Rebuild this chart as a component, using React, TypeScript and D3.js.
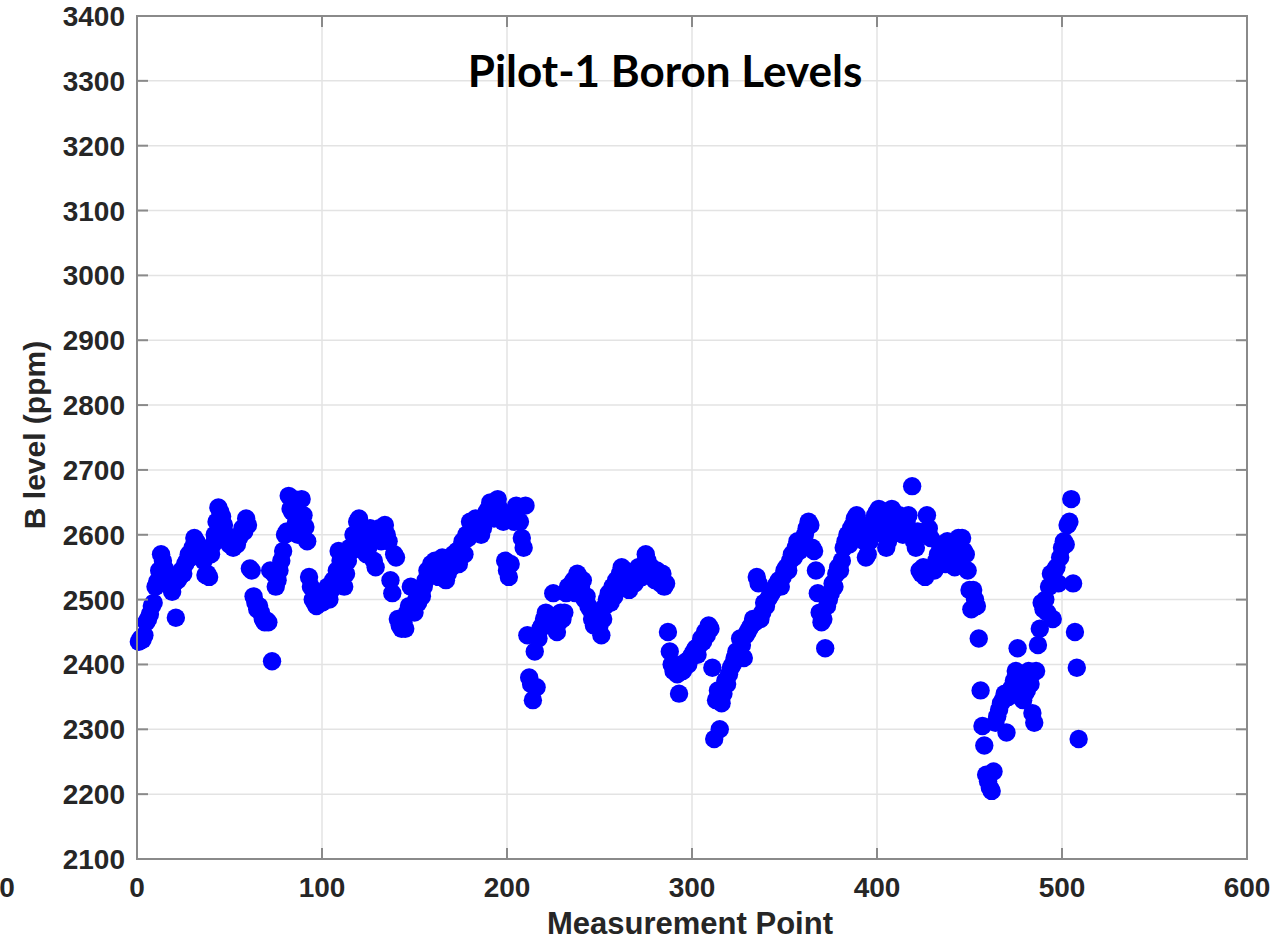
import React from "react";
import * as d3 from "d3";

const chartTitle = "Pilot-1 Boron Levels";
const xLabel = "Measurement Point";
const yLabel = "B level (ppm)";
const xTicks = [0, 100, 200, 300, 400, 500, 600];
const yTicks = [2100, 2200, 2300, 2400, 2500, 2600, 2700, 2800, 2900, 3000, 3100, 3200, 3300, 3400];

// B level per measurement point (index 1..509)
const bLevels = [
  2435, 2440, 2438, 2445, 2465, 2470, 2478, 2490, 2495, 2520,
  2528, 2545, 2570, 2560, 2548, 2540, 2530, 2520, 2512, 2525,
  2472, 2530, 2535, 2545, 2540, 2555, 2560, 2570, 2565, 2580,
  2595, 2590, 2575, 2580, 2570, 2560, 2538, 2540, 2535, 2570,
  2585, 2600, 2620, 2642, 2635, 2628, 2615, 2600, 2590, 2585,
  2595, 2580, 2590, 2585, 2595, 2600, 2610, 2605, 2625, 2615,
  2548, 2545, 2505, 2495, 2485, 2490, 2480, 2470, 2465, 2468,
  2465, 2545, 2405, 2540, 2520, 2530, 2545, 2560, 2575, 2600,
  2605, 2660, 2640, 2635, 2655, 2620, 2600, 2615, 2655, 2630,
  2612, 2590, 2535, 2520, 2500, 2495, 2490, 2500, 2505, 2495,
  2505, 2510, 2520, 2500, 2515, 2530, 2525, 2545, 2575, 2560,
  2555, 2520, 2540, 2560, 2580, 2575, 2600, 2590, 2620, 2625,
  2600, 2585, 2595, 2570, 2580, 2610, 2590, 2560, 2550, 2595,
  2610, 2590, 2600, 2615, 2600, 2590, 2530, 2510, 2570, 2565,
  2470, 2460, 2455, 2465, 2455, 2480, 2490, 2520, 2485, 2480,
  2500, 2495, 2510, 2505, 2520, 2530, 2545, 2540, 2555, 2550,
  2560, 2540, 2535, 2555, 2565, 2545, 2530, 2540, 2555, 2550,
  2570, 2560, 2575, 2555, 2580, 2590, 2570, 2600, 2595, 2620,
  2610, 2615, 2625, 2620, 2605, 2600, 2610, 2620, 2635, 2640,
  2650, 2630, 2625, 2640, 2655, 2640, 2630, 2620, 2560, 2545,
  2535, 2555, 2630, 2620, 2645, 2640, 2620, 2595, 2580, 2645,
  2445, 2380, 2370, 2345, 2420, 2365, 2440, 2455, 2460, 2470,
  2480, 2475, 2460, 2470, 2510, 2475, 2450, 2465, 2480, 2470,
  2480, 2510, 2520, 2515, 2525, 2530, 2510, 2540, 2535, 2520,
  2530, 2500, 2505, 2490, 2485, 2470, 2460, 2475, 2480, 2460,
  2445, 2470, 2490, 2500, 2510, 2495, 2520, 2505, 2530, 2525,
  2540, 2550, 2530, 2545, 2520, 2515, 2535, 2540, 2525, 2530,
  2550, 2545, 2535, 2555, 2570, 2560, 2545, 2550, 2540, 2530,
  2545, 2535, 2525, 2540, 2520, 2525, 2450, 2420, 2400, 2390,
  2395, 2385, 2355, 2400, 2390, 2395, 2405, 2400, 2410, 2415,
  2420, 2425, 2415, 2430, 2440, 2435, 2450, 2445, 2460, 2455,
  2395, 2285, 2345, 2360, 2300, 2340, 2355, 2375, 2370, 2385,
  2395, 2400, 2410, 2420, 2415, 2440, 2430, 2410, 2445, 2450,
  2455, 2460, 2470, 2465, 2535, 2525, 2470, 2480, 2495, 2490,
  2500, 2505, 2510, 2515, 2520, 2525, 2530, 2520, 2535, 2545,
  2550, 2545, 2560, 2570, 2565, 2580, 2590, 2575, 2585, 2590,
  2600, 2610, 2620, 2615, 2580, 2575, 2545, 2510, 2480, 2465,
  2470, 2425, 2490, 2500, 2510, 2525, 2520, 2540, 2550, 2545,
  2560, 2580, 2590, 2600, 2585, 2610, 2615, 2625, 2630, 2620,
  2610, 2605, 2590, 2565, 2570, 2590, 2600, 2620, 2630, 2635,
  2640, 2625, 2610, 2600, 2580, 2590, 2620, 2640, 2635, 2610,
  2625, 2630, 2615, 2600, 2610, 2620, 2630, 2600, 2675, 2590,
  2580, 2605, 2545, 2540, 2550, 2535, 2630, 2610, 2595, 2550,
  2545, 2560, 2570, 2585, 2580, 2565, 2555, 2590, 2575, 2560,
  2570, 2550, 2565, 2595, 2590, 2595, 2575, 2570, 2545, 2515,
  2485, 2515, 2500, 2490, 2440, 2360, 2305, 2275, 2230, 2220,
  2210, 2205, 2235, 2310, 2320, 2330, 2340, 2345, 2355, 2295,
  2350, 2360, 2365, 2375, 2390, 2425, 2380, 2370, 2345, 2355,
  2360, 2390, 2370, 2325, 2310, 2390, 2430, 2455, 2495, 2485,
  2500, 2480, 2520, 2540, 2470, 2545, 2550, 2525, 2565, 2580,
  2590, 2585, 2615, 2620, 2655, 2525, 2450, 2395, 2285,
];

const W = 1281;
const H = 940;
const L = 137;
const R = 1247;
const T = 16;
const B = 859;

export default function App() {
  const x = d3.scaleLinear().domain([0, 600]).range([L, R]);
  const y = d3.scaleLinear().domain([2100, 3400]).range([B, T]);
  const tickFont = "'Liberation Sans', Arial, sans-serif";
  const labelColor = "#262626";
  const axisColor = "#8a8a8a";
  const tickLen = 11;
  const tickSize = 28;

  return (
    <svg width={W} height={H} style={{ position: "absolute", left: 0, top: 0, background: "#fff" }}>
      <rect x={0} y={0} width={W} height={H} fill="#fff" />
      {xTicks.map((t) => (
        <line key={"gx" + t} x1={x(t)} x2={x(t)} y1={T} y2={B} stroke="#e3e3e3" strokeWidth={1.5} />
      ))}
      {yTicks.map((t) => (
        <line key={"gy" + t} x1={L} x2={R} y1={y(t)} y2={y(t)} stroke="#e3e3e3" strokeWidth={1.5} />
      ))}
      {bLevels.map((v, i) => (
        <circle key={i} cx={x(i + 1)} cy={y(v)} r={9.2} fill="#0000ff" />
      ))}
      <rect x={L} y={T} width={R - L} height={B - T} fill="none" stroke={axisColor} strokeWidth={2} />
      {xTicks.map((t) => (
        <g key={"tx" + t}>
          <line x1={x(t)} x2={x(t)} y1={B} y2={B - tickLen} stroke={axisColor} strokeWidth={2} />
          <line x1={x(t)} x2={x(t)} y1={T} y2={T + tickLen} stroke={axisColor} strokeWidth={2} />
          <text x={x(t)} y={897} textAnchor="middle" fontFamily={tickFont} fontWeight="bold" fontSize={tickSize} fill={labelColor}>
            {t}
          </text>
        </g>
      ))}
      {yTicks.map((t) => (
        <g key={"ty" + t}>
          <line x1={L} x2={L + tickLen} y1={y(t)} y2={y(t)} stroke={axisColor} strokeWidth={2} />
          <line x1={R} x2={R - tickLen} y1={y(t)} y2={y(t)} stroke={axisColor} strokeWidth={2} />
          <text x={125} y={y(t) + 10} textAnchor="end" fontFamily={tickFont} fontWeight="bold" fontSize={tickSize} fill={labelColor}>
            {t}
          </text>
        </g>
      ))}
      <text x={7} y={897} textAnchor="middle" fontFamily={tickFont} fontWeight="bold" fontSize={tickSize} fill={labelColor}>
        0
      </text>
      <text x={690} y={934} textAnchor="middle" fontFamily={tickFont} fontWeight="bold" fontSize={31} fill={labelColor}>
        {xLabel}
      </text>
      <text
        transform={`translate(45, 435) rotate(-90)`}
        textAnchor="middle"
        fontFamily={tickFont}
        fontWeight="bold"
        fontSize={30}
        fill={labelColor}
      >
        {yLabel}
      </text>
      <text x={665} y={87} textAnchor="middle" fontFamily="Lato, 'Open Sans', sans-serif" fontWeight="bold" fontSize={44} fill="#000">
        {chartTitle}
      </text>
    </svg>
  );
}
